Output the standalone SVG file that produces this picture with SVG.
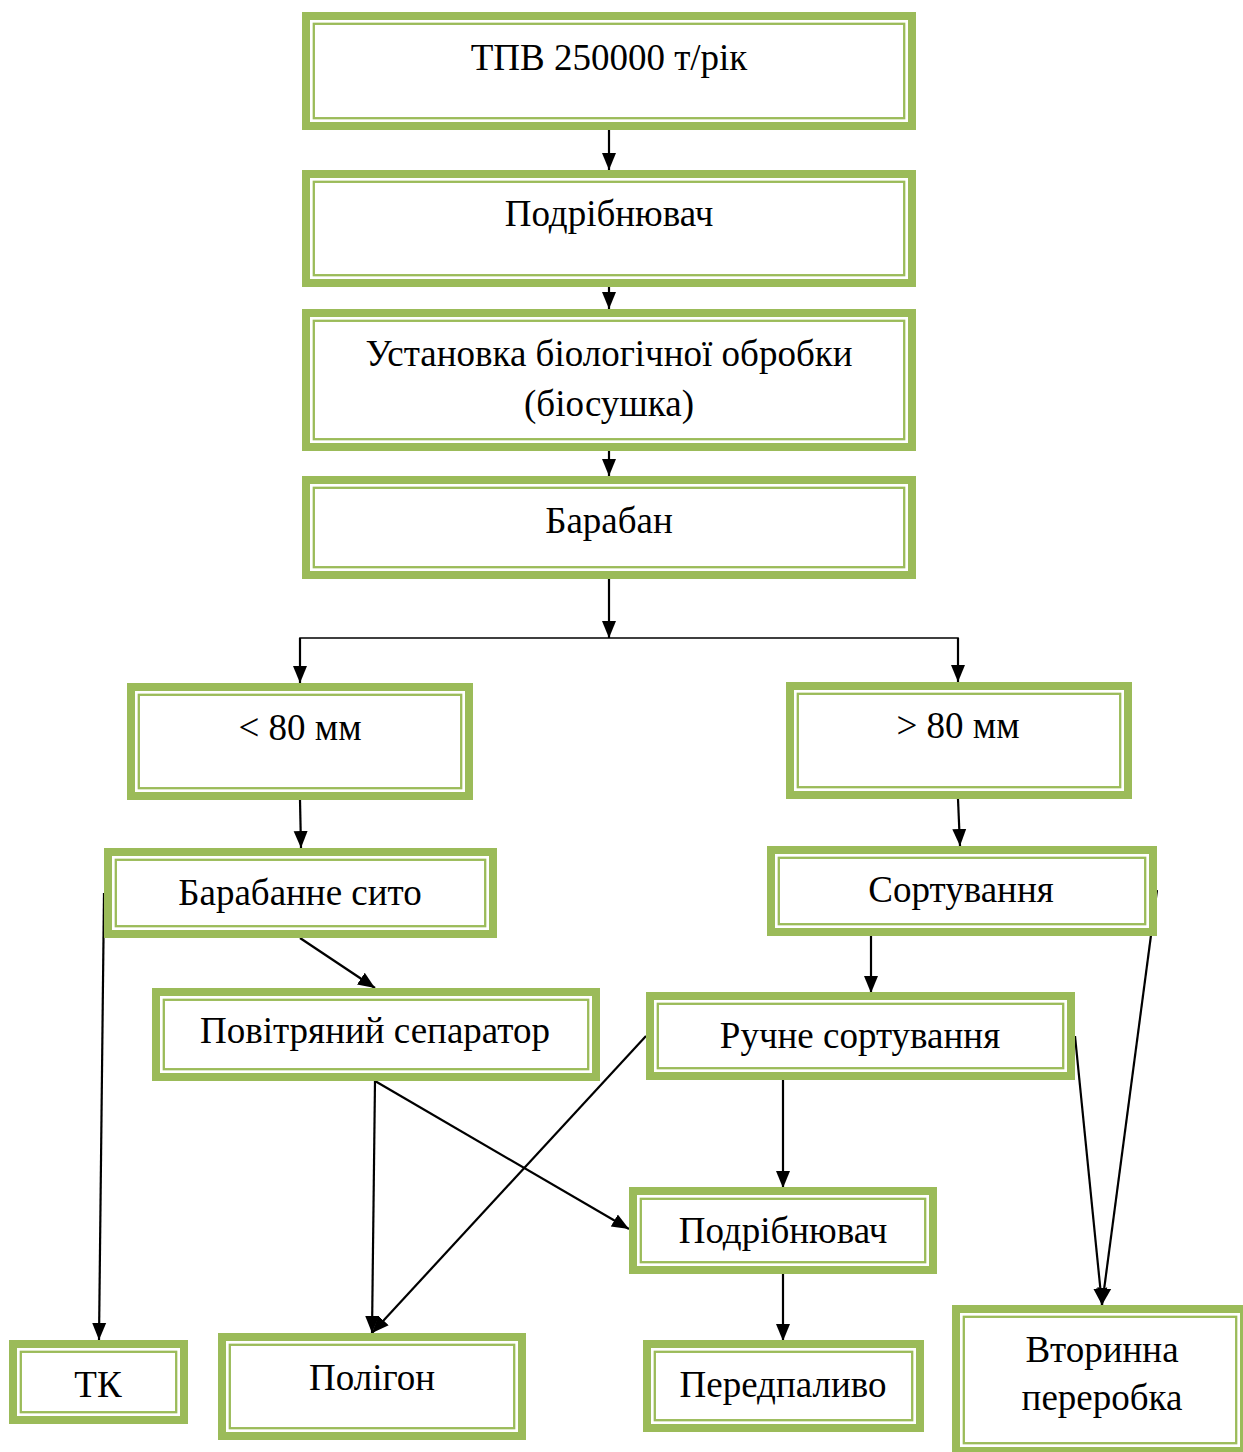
<svg xmlns="http://www.w3.org/2000/svg" width="1243" height="1452" viewBox="0 0 1243 1452">
  <style>
    .outer { fill: #ffffff; stroke: #9BBB59; stroke-width: 8; }
    .inner { fill: none; stroke: #9BBB59; stroke-width: 2.3; }
    .label { font-family: "Liberation Serif", "Times New Roman", serif; font-size: 37px; fill: #000000; text-anchor: middle; }
    .link { fill: none; stroke: #000000; stroke-width: 2.2; }
    .bus { fill: none; stroke: #000000; stroke-width: 1.6; }
  </style>
  <defs>
    <marker id="arrow" markerUnits="userSpaceOnUse" markerWidth="18" markerHeight="18" viewBox="0 0 18 18" refX="17" refY="9" orient="auto">
      <path d="M0,2 L17,9 L0,16 Z" fill="#000000"/>
    </marker>
  </defs>

  <rect width="1243" height="1452" fill="#ffffff"/>

  <!-- connectors -->
  <g id="connectors">
    <line class="link" x1="609" y1="130" x2="609" y2="170" marker-end="url(#arrow)"/>
    <line class="link" x1="609" y1="287" x2="609" y2="309" marker-end="url(#arrow)"/>
    <line class="link" x1="609" y1="451" x2="609" y2="476" marker-end="url(#arrow)"/>
    <line class="link" x1="609" y1="579" x2="609" y2="638" marker-end="url(#arrow)"/>
    <polyline class="bus" points="300,650 300,638 958,638 958,650"/>
    <line class="link" x1="300" y1="638" x2="300" y2="683" marker-end="url(#arrow)"/>
    <line class="link" x1="958" y1="638" x2="958" y2="682" marker-end="url(#arrow)"/>
    <line class="link" x1="300" y1="800" x2="301" y2="848" marker-end="url(#arrow)"/>
    <line class="link" x1="958" y1="799" x2="960" y2="846" marker-end="url(#arrow)"/>
    <line class="link" x1="104" y1="893" x2="99" y2="1340" marker-end="url(#arrow)"/>
    <line class="link" x1="300" y1="938" x2="375" y2="988" marker-end="url(#arrow)"/>
    <line class="link" x1="871" y1="936" x2="871" y2="993" marker-end="url(#arrow)"/>
    <line class="link" x1="1157" y1="890" x2="1102" y2="1305" marker-end="url(#arrow)"/>
    <line class="link" x1="1075" y1="1036" x2="1102" y2="1305" marker-end="url(#arrow)"/>
    <line class="link" x1="646" y1="1036" x2="372" y2="1333" marker-end="url(#arrow)"/>
    <line class="link" x1="375" y1="1081" x2="372" y2="1333" marker-end="url(#arrow)"/>
    <line class="link" x1="375" y1="1081" x2="629" y2="1229" marker-end="url(#arrow)"/>
    <line class="link" x1="783" y1="1080" x2="783" y2="1188" marker-end="url(#arrow)"/>
    <line class="link" x1="783" y1="1274" x2="783" y2="1341" marker-end="url(#arrow)"/>
  </g>

  <!-- nodes -->
  <g id="n-tpv">
    <rect class="outer" x="306" y="16" width="606" height="110"/>
    <rect class="inner" x="313.8" y="23.8" width="590.4" height="94.4"/>
    <text class="label" x="609" y="70">ТПВ 250000 т/рік</text>
  </g>
  <g id="n-shredder1">
    <rect class="outer" x="306" y="174" width="606" height="109"/>
    <rect class="inner" x="313.8" y="181.8" width="590.4" height="93.4"/>
    <text class="label" x="609" y="226">Подрібнювач</text>
  </g>
  <g id="n-bio">
    <rect class="outer" x="306" y="313" width="606" height="134"/>
    <rect class="inner" x="313.8" y="320.8" width="590.4" height="118.4"/>
    <text class="label" x="609" y="366">Установка біологічної обробки</text>
    <text class="label" x="609" y="416">(біосушка)</text>
  </g>
  <g id="n-drum">
    <rect class="outer" x="306" y="480" width="606" height="95"/>
    <rect class="inner" x="313.8" y="487.8" width="590.4" height="79.4"/>
    <text class="label" x="609" y="533">Барабан</text>
  </g>
  <g id="n-lt80">
    <rect class="outer" x="131" y="687" width="338" height="109"/>
    <rect class="inner" x="138.8" y="694.8" width="322.4" height="93.4"/>
    <text class="label" x="300" y="740">&lt; 80 мм</text>
  </g>
  <g id="n-gt80">
    <rect class="outer" x="790" y="686" width="338" height="109"/>
    <rect class="inner" x="797.8" y="693.8" width="322.4" height="93.4"/>
    <text class="label" x="958" y="738">&gt; 80 мм</text>
  </g>
  <g id="n-screen">
    <rect class="outer" x="108" y="852" width="385" height="82"/>
    <rect class="inner" x="115.8" y="859.8" width="369.4" height="66.4"/>
    <text class="label" x="300" y="905">Барабанне сито</text>
  </g>
  <g id="n-sorting">
    <rect class="outer" x="771" y="850" width="382" height="82"/>
    <rect class="inner" x="778.8" y="857.8" width="366.4" height="66.4"/>
    <text class="label" x="961" y="902">Сортування</text>
  </g>
  <g id="n-air">
    <rect class="outer" x="156" y="992" width="440" height="85"/>
    <rect class="inner" x="163.8" y="999.8" width="424.4" height="69.4"/>
    <text class="label" x="375" y="1043">Повітряний сепаратор</text>
  </g>
  <g id="n-manual">
    <rect class="outer" x="650" y="996" width="421" height="80"/>
    <rect class="inner" x="657.8" y="1003.8" width="405.4" height="64.4"/>
    <text class="label" x="860" y="1048">Ручне сортування</text>
  </g>
  <g id="n-shredder2">
    <rect class="outer" x="633" y="1191" width="300" height="79"/>
    <rect class="inner" x="640.8" y="1198.8" width="284.4" height="63.4"/>
    <text class="label" x="783" y="1243">Подрібнювач</text>
  </g>
  <g id="n-tk">
    <rect class="outer" x="13" y="1344" width="171" height="76"/>
    <rect class="inner" x="20.8" y="1351.8" width="155.4" height="60.4"/>
    <text class="label" x="98" y="1397">ТК</text>
  </g>
  <g id="n-landfill">
    <rect class="outer" x="222" y="1337" width="300" height="99"/>
    <rect class="inner" x="229.8" y="1344.8" width="284.4" height="83.4"/>
    <text class="label" x="372" y="1390">Полігон</text>
  </g>
  <g id="n-prefuel">
    <rect class="outer" x="647" y="1344" width="273" height="84"/>
    <rect class="inner" x="654.8" y="1351.8" width="257.4" height="68.4"/>
    <text class="label" x="783" y="1397">Передпаливо</text>
  </g>
  <g id="n-recycling">
    <rect class="outer" x="956" y="1309" width="288" height="142"/>
    <rect class="inner" x="963.8" y="1316.8" width="272.4" height="126.4"/>
    <text class="label" x="1102" y="1362">Вторинна</text>
    <text class="label" x="1102" y="1410">переробка</text>
  </g>
</svg>
